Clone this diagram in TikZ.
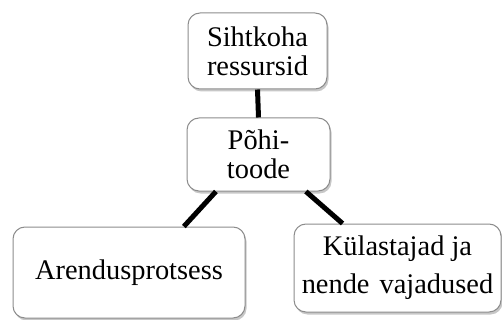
\documentclass[tikz,border=0pt]{standalone}
\usepackage{fontspec}
\setmainfont{Liberation Serif}
\usetikzlibrary{shapes, positioning, shadows}

\begin{document}
\begin{tikzpicture}[x=1pt, y=-1pt,
  box/.style={rectangle, rounded corners=12pt, draw=black!45, line width=1pt, fill=white,
    drop shadow={shadow xshift=1.5pt, shadow yshift=-2.5pt, fill=black!40, opacity=0.55},
    align=center, inner sep=0pt, font=\fontsize{28.4}{29}\selectfont},
  link/.style={line width=5pt}]
\useasboundingbox (0,0) rectangle (502,320);
% Boxes
\node[box, minimum width=139pt, minimum height=76pt] (res) at (257.5,51) {Sihtkoha\\ressursid};
\node[box, minimum width=143pt, minimum height=73pt] (toode) at (258.5,154.5) {P\~ohi-\\toode};
\node[box, minimum width=232pt, minimum height=91pt] (arendus) at (129,272.5) {Arendusprotsess};
\node[box, minimum width=207pt, minimum height=88pt, font=\fontsize{28.4}{38}\selectfont] (kulast) at (397.5,268) {K\"ulastajad ja\\nende\hspace{3pt} vajadused};
% Connectors
\foreach \from/\to in {res.south/toode.north, toode.221/arendus.40.6, toode.322.3/kulast.141.1} {
  \draw[link] (\from) -- (\to);
}
\end{tikzpicture}
\end{document}
